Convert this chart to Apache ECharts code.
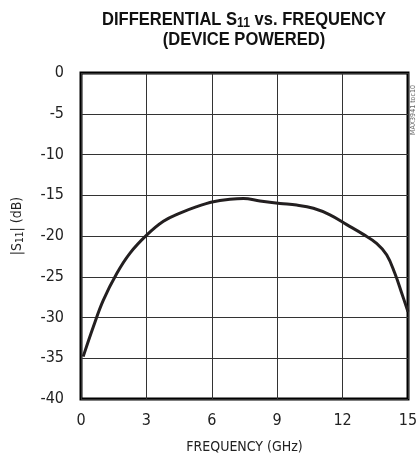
<!DOCTYPE html>
<html><head><meta charset="utf-8">
<script src="https://cdn.jsdelivr.net/npm/echarts@6/dist/echarts.min.js"></script>
<style>html,body{margin:0;padding:0;background:#fff}#c{width:418px;height:457px}</style>
</head><body><div id="c"></div>
<script>
var freqGHz = [0.1, 0.57, 1.02, 1.64, 2.25, 3.01, 3.78, 4.54, 5.31, 6.07, 6.83, 7.45, 8.21, 9.13, 9.89, 10.66, 11.42, 12.19, 12.95, 13.56, 14.02, 14.4, 14.71, 15.0];
var s11dB = [-34.8, -31.1, -27.9, -24.6, -22.1, -19.9, -18.2, -17.2, -16.4, -15.8, -15.5, -15.4, -15.7, -16.0, -16.2, -16.6, -17.4, -18.6, -19.8, -20.9, -22.3, -24.6, -27.0, -29.3];
var xTicks = [0, 3, 6, 9, 12, 15];
var yTicks = [0, -5, -10, -15, -20, -25, -30, -35, -40];

var FONT = "'Liberation Sans Narrow', 'DejaVu Sans Condensed', 'Arial Narrow', sans-serif";
var TFONT = "'Liberation Sans', Arial, sans-serif";
var chart = echarts.init(document.getElementById('c'), null, {renderer: 'canvas'});
var pts = freqGHz.map(function (f, i) { return [f, s11dB[i]]; });
chart.setOption({
  animation: false,
  graphic: [{
    type: 'text', x: 244, y: 30, scaleX: 0.87, scaleY: 1,
    style: {
      text: '{b|DIFFERENTIAL S}{s|11}{b| vs. FREQUENCY}\n{b|(DEVICE POWERED)}',
      align: 'center', verticalAlign: 'middle',
      rich: {
        b: {font: 'bold 19px ' + TFONT, fill: '#111', lineHeight: 20},
        s: {font: 'bold 14px ' + TFONT, fill: '#111', lineHeight: 20, verticalAlign: 'bottom', padding: [7, 0, 0, 0]}
      }
    }
  }, {
    type: 'text', x: 413, y: 110, rotation: Math.PI / 2,
    style: {text: 'MAX3941 toc10', font: '7px ' + FONT, fill: '#666', align: 'center', verticalAlign: 'middle'}
  }],
  grid: {left: 81, right: 10, top: 73, bottom: 58, show: true, borderColor: '#000', borderWidth: 3,
    containLabel: false, outerBoundsMode: 'none'},
  xAxis: {
    type: 'value', min: 0, max: 15, interval: 3,
    name: 'FREQUENCY (GHz)', nameLocation: 'middle', nameGap: 41,
    nameTextStyle: {fontFamily: FONT, fontSize: 14, color: '#222'},
    axisLine: {show: false}, axisTick: {show: false},
    axisLabel: {fontFamily: FONT, fontSize: 16, color: '#222', margin: 14,
      formatter: function (v) { return xTicks.indexOf(v) >= 0 ? String(v) : ''; }},
    splitLine: {show: true, lineStyle: {color: '#333', width: 1}}
  },
  yAxis: {
    type: 'value', min: -40, max: 0, interval: 5,
    name: '{a||S}{s|11}{a|| (dB)}', nameLocation: 'middle', nameGap: 56,
    nameTextStyle: {padding: [0, 0, 0, 20], rich: {
      a: {fontFamily: FONT, fontSize: 14, color: '#222'},
      s: {fontFamily: FONT, fontSize: 10, color: '#222', verticalAlign: 'bottom', padding: [5, 0, 0, 0]}
    }},
    axisLine: {show: false}, axisTick: {show: false},
    axisLabel: {fontFamily: FONT, fontSize: 16, color: '#222', margin: 17,
      formatter: function (v) { return yTicks.indexOf(v) >= 0 ? String(v) : ''; }},
    splitLine: {show: true, lineStyle: {color: '#333', width: 1}}
  },
  series: [{
    type: 'line', data: pts, smooth: 0.4, showSymbol: false, symbol: 'none',
    lineStyle: {color: '#231f20', width: 3}, clip: false
  }]
});
</script></body></html>
